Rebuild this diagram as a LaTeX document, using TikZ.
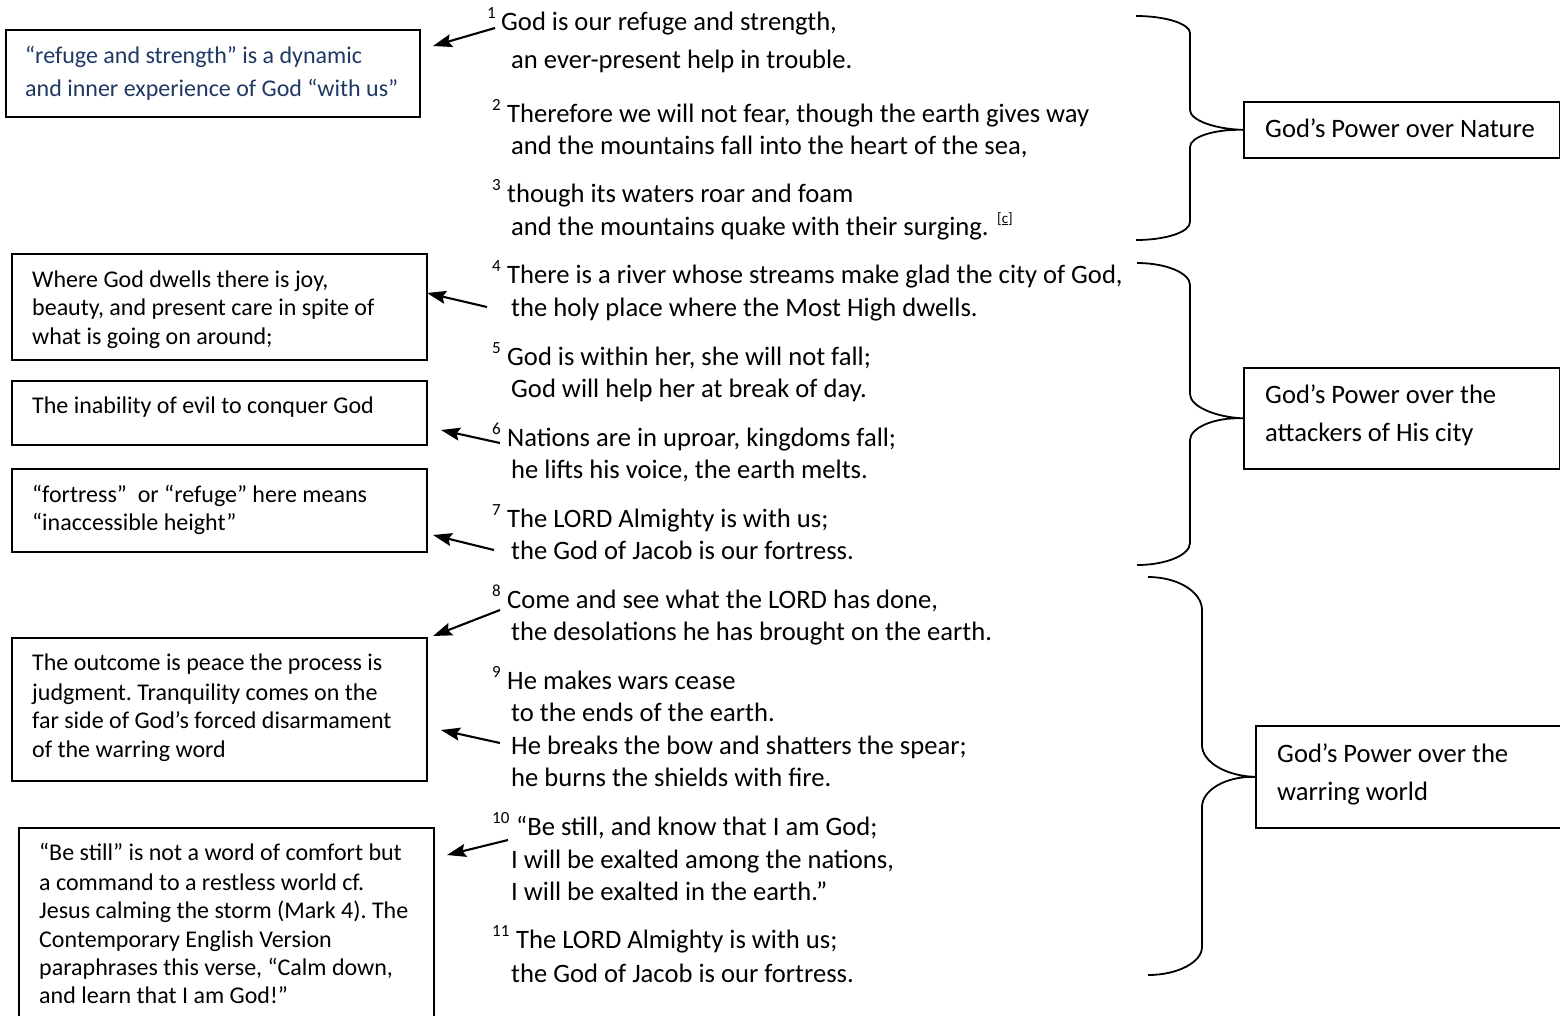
\documentclass[tikz,border=0pt]{standalone}
\usepackage{fontspec}
\setmainfont{Carlito}
\usetikzlibrary{arrows.meta}
\definecolor{navy}{HTML}{1F3864}
\frenchspacing
\begin{document}
\begin{tikzpicture}[x=1pt,y=-1pt,
  verse/.style={anchor=base west, inner sep=0pt, font=\fontsize{26.6}{32}\selectfont},
  vsup/.style={anchor=base west, inner sep=0pt, font=\fontsize{17}{19}\selectfont},
  note/.style={anchor=base west, inner sep=0pt, font=\fontsize{24}{29}\selectfont},
  bignote/.style={anchor=base west, inner sep=0pt, font=\fontsize{26.6}{32}\selectfont},
  frame/.style={draw, line width=1.7pt, anchor=north west, inner sep=0pt},
  arr/.style={line width=2.1pt, -{Stealth[length=19pt,width=13pt,inset=3pt]}},
  brace/.style={line width=1.8pt}]
\useasboundingbox (0,0) rectangle (1560,1015);
\clip (0,0) rectangle (1560,1015);

% ---------- left note frames ----------
\node[frame, minimum width=414pt, minimum height=87pt] (n1) at (5,29) {};
\node[frame, minimum width=415pt, minimum height=106pt] (n2) at (11,253) {};
\node[frame, minimum width=415pt, minimum height=64pt] (n3) at (11,380) {};
\node[frame, minimum width=415pt, minimum height=83pt] (n4) at (11,468) {};
\node[frame, minimum width=415pt, minimum height=143pt] (n5) at (11,637) {};
\node[frame, minimum width=415pt, minimum height=250pt] (n6) at (18,827) {};

% ---------- right heading frames ----------
\node[frame, minimum width=316pt, minimum height=56pt] (nA) at (1243,101) {};
\node[frame, minimum width=316pt, minimum height=101pt] (nB) at (1243,367) {};
\node[frame, minimum width=330pt, minimum height=102pt] (nC) at (1255,725) {};

% ---------- note texts ----------
\node[note, text=navy] (n1a) at (25,63) {“refuge and strength” is a dynamic};
\node[note, text=navy] (n1b) at (25,96) {and inner experience of God “with us”};

\node[note] (n2a) at (32,287) {Where God dwells there is joy,};
\node[note] (n2b) at (32,315) {beauty, and present care in spite of};
\node[note] (n2c) at (32,344) {what is going on around;};

\node[note] (n3a) at (32,413) {The inability of evil to conquer God};

\node[note] (n4a) at (32,502) {“fortress”\ \ or “refuge” here means};
\node[note] (n4b) at (32,530) {“inaccessible height”};

\node[note] (n5a) at (32,670) {The outcome is peace the process is};
\node[note] (n5b) at (32,700) {judgment. Tranquility comes on the};
\node[note] (n5c) at (32,728) {far side of God’s forced disarmament};
\node[note] (n5d) at (32,757) {of the warring word};

\node[note] (n6a) at (39,860) {“Be still” is not a word of comfort but};
\node[note] (n6b) at (39,890) {a command to a restless world cf.};
\node[note] (n6c) at (39,918) {Jesus calming the storm (Mark 4). The};
\node[note] (n6d) at (39,947) {Contemporary English Version};
\node[note] (n6e) at (39,975) {paraphrases this verse, “Calm down,};
\node[note] (n6f) at (39,1003) {and learn that I am God!”};

% ---------- heading texts ----------
\node[bignote] (nAa) at (1265,137) {God’s Power over Nature};
\node[bignote] (nBa) at (1265,403) {God’s Power over the};
\node[bignote] (nBb) at (1265,441) {attackers of His city};
\node[bignote] (nCa) at (1277,762) {God’s Power over the};
\node[bignote] (nCb) at (1277,800) {warring world};

% ---------- verses ----------
\node[vsup] (s1) at (487,18) {1};
\node[verse] (v1a) at (501,30) {God is our refuge and strength,};
\node[verse] (v1b) at (511,68) {an ever-present help in trouble.};
\node[vsup] (s2) at (492,110) {2};
\node[verse] (v2a) at (507,122) {Therefore we will not fear, though the earth gives way};
\node[verse] (v2b) at (511,154) {and the mountains fall into the heart of the sea,};
\node[vsup] (s3) at (492,190) {3};
\node[verse] (v3a) at (507,202) {though its waters roar and foam};
\node[verse] (v3b) at (511,235) {and the mountains quake with their surging.};
\node[anchor=base west, inner sep=0pt, font=\fontsize{15}{17}\selectfont] (fc) at (997,223) {[\underline{c}]};
\node[vsup] (s4) at (492,271) {4};
\node[verse] (v4a) at (507,283) {There is a river whose streams make glad the city of God,};
\node[verse] (v4b) at (511,316) {the holy place where the Most High dwells.};
\node[vsup] (s5) at (492,353) {5};
\node[verse] (v5a) at (507,365) {God is within her, she will not fall;};
\node[verse] (v5b) at (511,397) {God will help her at break of day.};
\node[vsup] (s6) at (492,434) {6};
\node[verse] (v6a) at (507,446) {Nations are in uproar, kingdoms fall;};
\node[verse] (v6b) at (511,478) {he lifts his voice, the earth melts.};
\node[vsup] (s7) at (492,515) {7};
\node[verse] (v7a) at (507,527) {The LORD Almighty is with us;};
\node[verse] (v7b) at (511,559) {the God of Jacob is our fortress.};
\node[vsup] (s8) at (492,596) {8};
\node[verse] (v8a) at (507,608) {Come and see what the LORD has done,};
\node[verse] (v8b) at (511,640) {the desolations he has brought on the earth.};
\node[vsup] (s9) at (492,677) {9};
\node[verse] (v9a) at (507,689) {He makes wars cease};
\node[verse] (v9b) at (511,721) {to the ends of the earth.};
\node[verse] (v9c) at (511,754) {He breaks the bow and shatters the spear;};
\node[verse] (v9d) at (511,786) {he burns the shields with fire.};
\node[vsup] (s10) at (492,823) {10};
\node[verse] (v10a) at (516,835) {“Be still, and know that I am God;};
\node[verse] (v10b) at (511,868) {I will be exalted among the nations,};
\node[verse] (v10c) at (511,900) {I will be exalted in the earth.”};
\node[vsup] (s11) at (492,936) {11};
\node[verse] (v11a) at (516,948) {The LORD Almighty is with us;};
\node[verse] (v11b) at (511,982) {the God of Jacob is our fortress.};

% ---------- arrows ----------
\coordinate (a1s) at (495,28);  \coordinate (a1e) at (433,46);
\coordinate (a2s) at (487,307); \coordinate (a2e) at (427,293);
\coordinate (a3s) at (500,443); \coordinate (a3e) at (441,430);
\coordinate (a4s) at (494,550); \coordinate (a4e) at (433,535);
\coordinate (a5s) at (500,610); \coordinate (a5e) at (433,636);
\coordinate (a6s) at (500,743); \coordinate (a6e) at (441,730);
\coordinate (a7s) at (508,840); \coordinate (a7e) at (447,855);
\draw[arr] (a1s) -- (a1e);
\draw[arr] (a2s) -- (a2e);
\draw[arr] (a3s) -- (a3e);
\draw[arr] (a4s) -- (a4e);
\draw[arr] (a5s) -- (a5e);
\draw[arr] (a6s) -- (a6e);
\draw[arr] (a7s) -- (a7e);

% ---------- braces ----------
\coordinate (b1t) at (1136,16);  \coordinate (b1b) at (1136,240);
\coordinate (b2t) at (1137,263); \coordinate (b2b) at (1137,565);
\coordinate (b3t) at (1148,577); \coordinate (b3b) at (1148,975);
\draw[brace] (b1t) .. controls (1166,16) and (1190,24) .. (1190,33) -- (1190,110)
  .. controls (1190,120) and (1214,129) .. (nA.west)
  .. controls (1214,129) and (1190,137) .. (1190,147) -- (1190,222)
  .. controls (1190,232) and (1166,240) .. (b1b);
\draw[brace] (b2t) .. controls (1166,263) and (1190,273) .. (1190,285) -- (1190,394)
  .. controls (1190,406) and (1214,417) .. (nB.west)
  .. controls (1214,417) and (1190,428) .. (1190,440) -- (1190,543)
  .. controls (1190,555) and (1166,565) .. (b2b);
\draw[brace] (b3t) .. controls (1178,577) and (1202,592) .. (1202,610) -- (1202,745)
  .. controls (1202,762) and (1226,776) .. (nC.west)
  .. controls (1226,776) and (1202,790) .. (1202,807) -- (1202,947)
  .. controls (1202,962) and (1178,975) .. (b3b);
\end{tikzpicture}
\end{document}
